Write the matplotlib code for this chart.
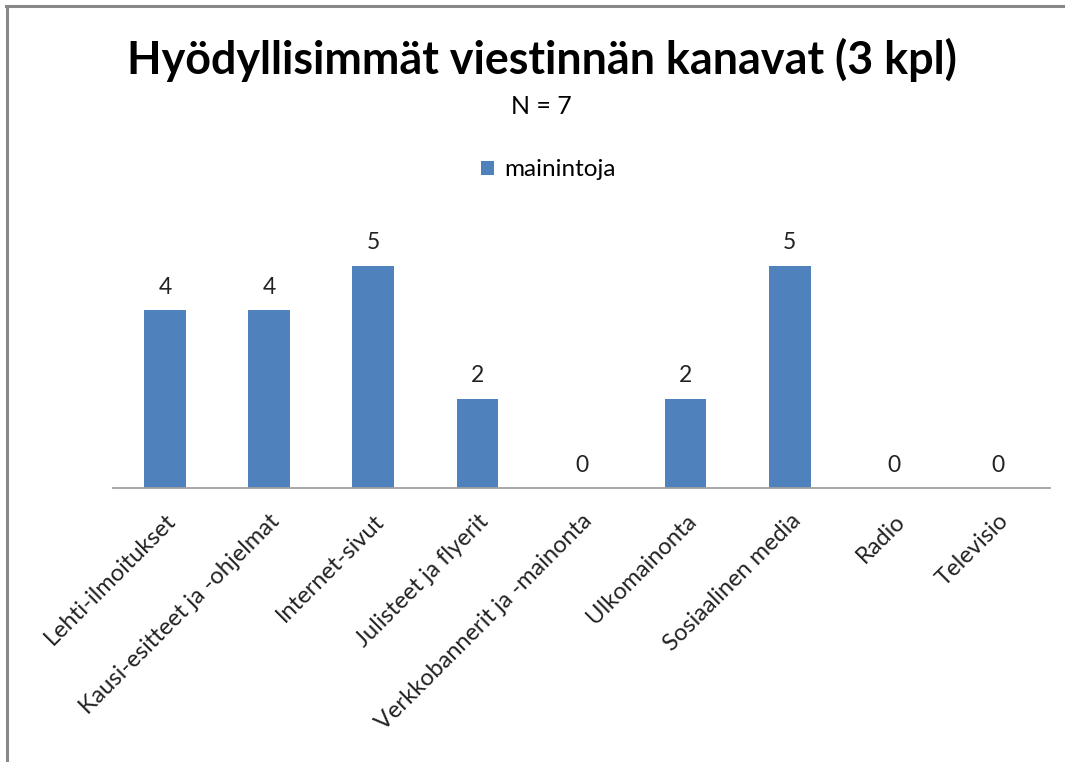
import matplotlib
matplotlib.use("Agg")
import matplotlib.pyplot as plt
from matplotlib.lines import Line2D

categories = ["Lehti-ilmoitukset", "Kausi-esitteet ja -ohjelmat", "Internet-sivut",
              "Julisteet ja flyerit", "Verkkobannerit ja -mainonta", "Ulkomainonta",
              "Sosiaalinen media", "Radio", "Televisio"]
values = [4, 4, 5, 2, 0, 2, 5, 0, 0]
series_name = "mainintoja"
title = "Hyödyllisimmät viestinnän kanavat (3 kpl)"
subtitle = "N = 7"

plt.rcParams['font.family'] = ['Lato', 'DejaVu Sans']
bar_color = "#4F81BD"

fig = plt.figure(figsize=(10.65, 7.62), dpi=100)
ax = fig.add_axes([113/1065, (762-488)/762, (1050-113)/1065, (488-221)/762])

x = list(range(len(categories)))
bars = ax.bar(x, values, width=0.4, color=bar_color, label=series_name, zorder=2)
ax.set_xlim(-0.5, len(categories) - 0.5)
ax.set_ylim(0, 6)

for xi, v in zip(x, values):
    ax.annotate(str(v), (xi, v), xytext=(0, 9), textcoords="offset points",
                ha="center", va="bottom", fontsize=16.5, color="#222222")

ax.set_yticks([])
ax.set_xticks(x)
ax.set_xticklabels(categories, rotation=45, ha="right", rotation_mode="anchor",
                   fontsize=17, color="#222222")
ax.tick_params(axis="x", length=0, pad=16)
for s in ["top", "right", "left"]:
    ax.spines[s].set_visible(False)
ax.spines["bottom"].set_color("#A0A0A0")
ax.spines["bottom"].set_linewidth(1.3)

fig.text(542/1065, 1 - 60/762, title, ha="center", va="center",
         fontsize=32.3, fontweight="bold", color="#000000")
fig.text(541/1065, 1 - 107/762, subtitle, ha="center", va="center",
         fontsize=18, color="#000000")

leg = fig.legend(handles=[bars], labels=[series_name], loc="center",
                 bbox_to_anchor=(548/1065, 1 - 170/762), frameon=False,
                 fontsize=17.5, handlelength=0.55, handleheight=0.55, handletextpad=0.4)

# figure border (top and left edges visible)
fig.add_artist(Line2D([6/1065, 1], [1 - 6/762, 1 - 6/762], transform=fig.transFigure,
                      color="#888888", linewidth=2.2))
fig.add_artist(Line2D([7/1065, 7/1065], [0, 1 - 6/762], transform=fig.transFigure,
                      color="#888888", linewidth=2.2))

fig.savefig("out.png", dpi=100)
